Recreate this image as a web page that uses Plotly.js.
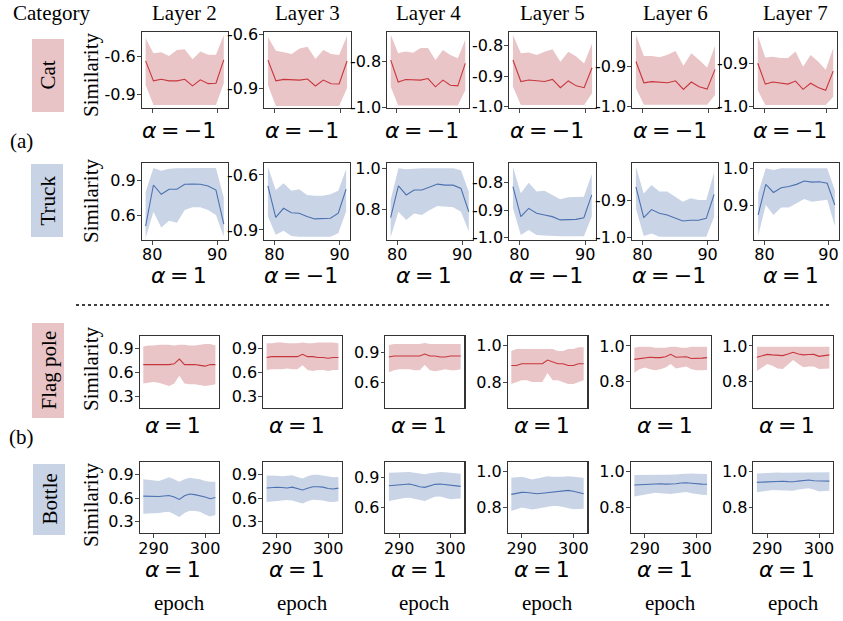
<!DOCTYPE html>
<html>
<head>
<meta charset="utf-8">
<script src="https://cdn.plot.ly/plotly-3.0.1.min.js"></script>
<style>html,body{margin:0;padding:0;background:#fff;}#chart{width:843px;height:621px;}</style>
</head>
<body>
<div id="chart"></div>
<script>
// ---------------- DATA ----------------
const layers = ["Layer 2", "Layer 3", "Layer 4", "Layer 5", "Layer 6", "Layer 7"];
const categories = ["Cat", "Truck", "Flag pole", "Bottle"];
const epochsA = [79, 80.2, 81.4, 82.6, 83.8, 85, 86.2, 87.4, 88.6, 89.8, 91];
const epochsB = [288, 289, 290, 291, 292, 293, 294, 295, 296, 297, 298, 299, 300, 301, 302];
const xTicksA = [80, 90];
const xTicksB = [290, 300];

const alphaCat    = ["−1", "−1", "−1", "−1", "−1", "−1"];
const alphaTruck  = ["1", "−1", "1", "−1", "−1", "1"];
const alphaFlag   = ["1", "1", "1", "1", "1", "1"];
const alphaBottle = ["1", "1", "1", "1", "1", "1"];

// Cat (row a1)
const catMean = [
  [-0.634,-0.793,-0.780,-0.793,-0.793,-0.780,-0.833,-0.785,-0.815,-0.812,-0.626],
  [-0.743,-0.858,-0.850,-0.854,-0.854,-0.848,-0.887,-0.854,-0.874,-0.876,-0.748],
  [-0.796,-0.891,-0.880,-0.883,-0.883,-0.876,-0.912,-0.883,-0.905,-0.908,-0.810],
  [-0.848,-0.918,-0.913,-0.915,-0.918,-0.911,-0.938,-0.916,-0.932,-0.938,-0.873],
  [-0.887,-0.941,-0.938,-0.939,-0.941,-0.936,-0.958,-0.939,-0.951,-0.957,-0.907],
  [-0.900,-0.948,-0.943,-0.945,-0.948,-0.941,-0.960,-0.946,-0.956,-0.962,-0.918]
];
const catUpper = [
  [-0.454,-0.573,-0.565,-0.595,-0.547,-0.541,-0.621,-0.560,-0.586,-0.586,-0.427],
  [-0.615,-0.691,-0.700,-0.709,-0.678,-0.669,-0.737,-0.687,-0.709,-0.715,-0.608],
  [-0.686,-0.766,-0.759,-0.764,-0.744,-0.744,-0.796,-0.752,-0.774,-0.788,-0.708],
  [-0.767,-0.826,-0.824,-0.832,-0.821,-0.813,-0.854,-0.821,-0.837,-0.859,-0.794],
  [-0.819,-0.873,-0.873,-0.876,-0.870,-0.860,-0.898,-0.866,-0.883,-0.902,-0.847],
  [-0.836,-0.887,-0.885,-0.888,-0.888,-0.873,-0.908,-0.881,-0.896,-0.915,-0.865]
];
const catLower = [
  [-0.825,-0.985,-0.985,-0.985,-0.985,-0.985,-0.985,-0.985,-0.985,-0.985,-0.812],
  [-0.882,-0.998,-0.998,-0.998,-0.998,-0.998,-0.998,-0.998,-0.998,-0.998,-0.898],
  [-0.912,-0.993,-0.993,-0.993,-0.993,-0.993,-0.993,-0.993,-0.993,-0.993,-0.927],
  [-0.935,-0.994,-0.994,-0.994,-0.994,-0.994,-0.994,-0.994,-0.994,-0.994,-0.956],
  [-0.955,-0.997,-0.997,-0.997,-0.997,-0.997,-0.997,-0.997,-0.997,-0.997,-0.972],
  [-0.962,-0.996,-0.996,-0.996,-0.996,-0.996,-0.996,-0.996,-0.996,-0.996,-0.977]
];

// Truck (row a2)
const truckMean = [
  [0.513,0.858,0.780,0.822,0.822,0.864,0.866,0.864,0.850,0.816,0.530],
  [-0.660,-0.831,-0.782,-0.806,-0.809,-0.827,-0.840,-0.836,-0.836,-0.809,-0.678],
  [0.759,0.914,0.870,0.894,0.894,0.910,0.923,0.918,0.918,0.902,0.788],
  [-0.815,-0.924,-0.894,-0.912,-0.918,-0.924,-0.936,-0.934,-0.934,-0.928,-0.845],
  [-0.862,-0.946,-0.924,-0.934,-0.939,-0.946,-0.955,-0.953,-0.953,-0.948,-0.883],
  [0.873,0.956,0.934,0.947,0.950,0.956,0.965,0.962,0.963,0.959,0.900]
];
const truckUpper = [
  [0.800,1.000,0.978,0.995,0.998,1.000,1.000,1.000,1.000,1.000,0.750],
  [-0.556,-0.682,-0.645,-0.686,-0.678,-0.709,-0.713,-0.713,-0.705,-0.686,-0.569],
  [0.845,1.000,0.995,0.998,1.000,1.000,1.000,1.000,1.000,0.990,0.886],
  [-0.743,-0.839,-0.801,-0.833,-0.830,-0.845,-0.861,-0.854,-0.854,-0.852,-0.769],
  [-0.807,-0.880,-0.857,-0.875,-0.875,-0.889,-0.903,-0.893,-0.898,-0.898,-0.823],
  [0.932,1.000,0.995,1.000,1.000,1.000,1.000,1.000,1.000,1.000,0.940]
];
const truckLower = [
  [0.410,0.634,0.502,0.558,0.541,0.648,0.671,0.671,0.648,0.606,0.424],
  [-0.827,-0.927,-0.905,-0.933,-0.937,-0.937,-0.937,-0.937,-0.937,-0.918,-0.800],
  [0.663,0.788,0.748,0.780,0.772,0.797,0.816,0.813,0.810,0.788,0.691],
  [-0.894,-0.991,-0.973,-0.991,-0.993,-0.995,-0.995,-0.995,-0.995,-0.995,-0.924],
  [-0.921,-0.996,-0.989,-0.998,-0.998,-0.998,-0.998,-0.998,-0.998,-0.998,-0.944],
  [0.816,0.900,0.873,0.893,0.893,0.905,0.916,0.909,0.912,0.914,0.843]
];

// Flag pole (row b1)
const flagMean = [
  [0.70,0.70,0.70,0.70,0.70,0.70,0.71,0.77,0.70,0.70,0.70,0.69,0.68,0.70,0.70],
  [0.79,0.80,0.80,0.80,0.80,0.80,0.80,0.83,0.80,0.80,0.79,0.79,0.78,0.79,0.79],
  [0.85,0.86,0.86,0.86,0.86,0.86,0.86,0.88,0.86,0.86,0.85,0.85,0.86,0.86,0.86],
  [0.89,0.89,0.90,0.90,0.90,0.90,0.90,0.92,0.91,0.90,0.90,0.89,0.89,0.90,0.90],
  [0.925,0.93,0.935,0.937,0.935,0.935,0.94,0.953,0.937,0.94,0.94,0.93,0.929,0.932,0.935],
  [0.937,0.945,0.953,0.95,0.947,0.946,0.955,0.965,0.955,0.95,0.952,0.953,0.942,0.945,0.95]
];
const flagUpper = [
  [0.93,0.94,0.94,0.95,0.95,0.95,0.94,0.95,0.95,0.94,0.94,0.95,0.96,0.96,0.94],
  [0.97,0.97,0.98,0.98,0.97,0.97,0.97,0.98,0.97,0.97,0.98,0.98,0.98,0.98,0.97],
  [0.97,0.98,0.98,0.98,0.98,0.98,0.98,0.99,0.98,0.98,0.98,0.98,0.98,0.98,0.98],
  [0.97,0.98,0.98,0.98,0.98,0.98,0.98,0.98,0.98,0.97,0.97,0.98,0.98,0.99,0.99],
  [0.99,0.995,0.995,0.995,0.99,0.99,0.99,0.995,0.995,0.99,0.99,0.995,0.995,0.995,0.995],
  [0.995,0.995,0.995,0.995,0.995,0.993,0.993,0.995,0.995,0.995,0.995,0.995,0.995,0.995,0.995]
];
const flagLower = [
  [0.46,0.47,0.48,0.47,0.45,0.43,0.46,0.56,0.46,0.45,0.45,0.44,0.43,0.44,0.45],
  [0.63,0.64,0.64,0.64,0.65,0.64,0.64,0.69,0.63,0.62,0.63,0.63,0.62,0.63,0.63],
  [0.70,0.72,0.73,0.73,0.73,0.72,0.72,0.77,0.72,0.71,0.72,0.73,0.72,0.72,0.73],
  [0.79,0.80,0.81,0.81,0.80,0.80,0.80,0.85,0.81,0.81,0.80,0.79,0.79,0.80,0.81],
  [0.85,0.87,0.88,0.87,0.865,0.87,0.88,0.90,0.875,0.88,0.885,0.87,0.865,0.865,0.866],
  [0.86,0.88,0.899,0.89,0.875,0.871,0.895,0.922,0.90,0.881,0.885,0.886,0.872,0.874,0.875]
];

// Bottle (row b2)
const bottleMean = [
  [0.625,0.622,0.62,0.62,0.628,0.633,0.615,0.584,0.63,0.652,0.645,0.633,0.615,0.593,0.609],
  [0.73,0.735,0.738,0.735,0.73,0.74,0.725,0.705,0.725,0.745,0.745,0.74,0.722,0.716,0.728],
  [0.821,0.825,0.828,0.832,0.838,0.825,0.81,0.805,0.82,0.835,0.838,0.832,0.828,0.818,0.815],
  [0.873,0.878,0.884,0.883,0.878,0.876,0.879,0.882,0.886,0.89,0.893,0.895,0.89,0.882,0.876],
  [0.926,0.928,0.93,0.932,0.935,0.933,0.931,0.93,0.933,0.937,0.939,0.936,0.932,0.931,0.93],
  [0.941,0.943,0.945,0.947,0.948,0.947,0.945,0.944,0.948,0.952,0.954,0.95,0.948,0.948,0.948]
];
const bottleUpper = [
  [0.84,0.835,0.825,0.818,0.84,0.865,0.84,0.81,0.84,0.86,0.85,0.84,0.82,0.81,0.81],
  [0.89,0.89,0.885,0.88,0.885,0.893,0.87,0.852,0.88,0.90,0.90,0.89,0.875,0.868,0.87],
  [0.95,0.952,0.955,0.957,0.958,0.95,0.94,0.935,0.945,0.955,0.958,0.955,0.95,0.945,0.941],
  [0.964,0.967,0.97,0.963,0.955,0.96,0.968,0.973,0.97,0.968,0.97,0.973,0.97,0.966,0.964],
  [0.982,0.983,0.984,0.985,0.985,0.984,0.983,0.982,0.985,0.988,0.99,0.99,0.989,0.988,0.988],
  [0.99,0.992,0.994,0.995,0.996,0.995,0.995,0.994,0.996,0.998,0.998,0.997,0.997,0.998,0.998]
];
const bottleLower = [
  [0.40,0.402,0.405,0.41,0.42,0.427,0.395,0.358,0.41,0.44,0.435,0.427,0.39,0.365,0.386],
  [0.55,0.56,0.565,0.57,0.575,0.57,0.55,0.531,0.56,0.58,0.575,0.57,0.555,0.551,0.56],
  [0.668,0.68,0.692,0.697,0.70,0.69,0.675,0.668,0.69,0.71,0.713,0.70,0.685,0.69,0.692],
  [0.781,0.79,0.80,0.795,0.79,0.793,0.80,0.804,0.809,0.809,0.803,0.796,0.791,0.792,0.794],
  [0.861,0.866,0.872,0.877,0.883,0.88,0.876,0.876,0.88,0.885,0.886,0.88,0.874,0.871,0.87],
  [0.885,0.89,0.896,0.898,0.897,0.895,0.894,0.894,0.90,0.906,0.908,0.90,0.889,0.892,0.894]
];

// y tick values per panel
const catYTicks   = [[-0.6,-0.9],[-0.6,-0.9],[-0.8,-1.0],[-0.8,-0.9,-1.0],[-0.9,-1.0],[-0.9,-1.0]];
const truckYTicks = [[0.9,0.6],[-0.6,-0.9],[1.0,0.8],[-0.8,-0.9,-1.0],[-0.9,-1.0],[1.0,0.9]];
const bYTicks     = [[0.9,0.6,0.3],[0.9,0.6,0.3],[0.9,0.6],[1.0,0.8],[1.0,0.8],[1.0,0.8]];

// ---------------- LAYOUT GEOMETRY ----------------
const W = 843, H = 621;
const px = v => v / W;
const py = v => 1 - v / H;
const rowsY = [[32,108],[163,240],[335.7,407.7],[461.7,533]];
const colsX = [
  [[141.7,227.7],[264,351],[387,469],[509,596],[632,719],[754,837]],
  [[141.7,227.7],[264,350],[386.7,472.7],[509,595.7],[632,718],[754.3,838.7]],
  [[139.7,219],[263,342],[385.3,464.3],[507.7,587.3],[630.7,710.7],[753.3,833]],
  [[139.7,219],[263,342],[385.3,464.3],[507.7,587.3],[630.7,710.7],[753.3,833]]
];
const yRanges = [
  [[-1.009,-0.404],[-1.009,-0.587],[-1.004,-0.674],[-1.004,-0.757],[-1.005,-0.812],[-1.003,-0.828]],
  [[0.396,1.043],[-0.955,-0.535],[0.650,1.026],[-1.009,-0.729],[-1.007,-0.797],[0.805,1.014]],
  [[0.155,1.065],[0.155,1.065],[0.347,1.062],[0.66,1.053],[0.656,1.057],[0.656,1.057]],
  [[0.155,1.065],[0.155,1.065],[0.347,1.062],[0.66,1.053],[0.656,1.057],[0.656,1.057]]
];

const RED_LINE = '#c8363d', RED_FILL = '#e9c5c7';
const BLUE_LINE = '#4c72b0', BLUE_FILL = '#cad4e7';
const SERIF = 'Liberation Serif';
const SANS = 'DejaVu Sans';

const rows = [
  {mean: catMean, up: catUpper, lo: catLower, x: epochsA, yt: catYTicks, red: true, alpha: alphaCat},
  {mean: truckMean, up: truckUpper, lo: truckLower, x: epochsA, yt: truckYTicks, red: false, alpha: alphaTruck},
  {mean: flagMean, up: flagUpper, lo: flagLower, x: epochsB, yt: bYTicks, red: true, alpha: alphaFlag},
  {mean: bottleMean, up: bottleUpper, lo: bottleLower, x: epochsB, yt: bYTicks, red: false, alpha: alphaBottle}
];

const fmt = v => (v < 0 ? '-' : '') + Math.abs(v).toFixed(1);

const traces = [];
const layout = {
  width: W, height: H,
  margin: {l:0, r:0, t:0, b:0},
  paper_bgcolor: '#fff', plot_bgcolor: '#fff',
  showlegend: false,
  font: {family: SANS, size: 16, color: '#000'},
  annotations: [], shapes: []
};

rows.forEach((row, r) => {
  for (let c = 0; c < 6; c++) {
    const k = r * 6 + c + 1;
    const xa = 'x' + (k > 1 ? k : ''), ya = 'y' + (k > 1 ? k : '');
    const lineC = row.red ? RED_LINE : BLUE_LINE;
    const fillC = row.red ? RED_FILL : BLUE_FILL;
    traces.push({x: row.x, y: row.lo[c], xaxis: xa, yaxis: ya, type: 'scatter', mode: 'lines',
      line: {width: 0, color: fillC}, hoverinfo: 'skip'});
    traces.push({x: row.x, y: row.up[c], xaxis: xa, yaxis: ya, type: 'scatter', mode: 'lines',
      line: {width: 0, color: fillC}, fill: 'tonexty', fillcolor: fillC, hoverinfo: 'skip'});
    traces.push({x: row.x, y: row.mean[c], xaxis: xa, yaxis: ya, type: 'scatter', mode: 'lines',
      line: {width: 1.1, color: lineC}});

    const xr = row.x === epochsA ? [78.4, 91.6] : [287.3, 302.7];
    const xt = row.x === epochsA ? xTicksA : xTicksB;
    const [x0, x1] = colsX[r][c];
    const [y0, y1] = rowsY[r];
    const showXLab = (r === 1 || r === 3);
    const showXTicks = (r !== 2);
    layout['xaxis' + (k > 1 ? k : '')] = {
      domain: [px(x0), px(x1)], anchor: ya, range: xr,
      showline: true, mirror: true, linecolor: '#333', linewidth: 1.2,
      showgrid: false, zeroline: false,
      ticks: showXTicks ? 'outside' : '', ticklen: 3.5, tickwidth: 0.9, tickcolor: '#333',
      tickvals: xt, ticktext: xt.map(String), showticklabels: showXLab,
      ticklabelstandoff: r === 1 ? -4 : -3,
      tickfont: {family: SANS, size: 16, color: '#000'}, fixedrange: true
    };
    layout['yaxis' + (k > 1 ? k : '')] = {
      domain: [py(y1), py(y0)], anchor: xa, range: yRanges[r][c],
      showline: true, mirror: true, linecolor: '#333', linewidth: 1.2,
      showgrid: false, zeroline: false,
      ticks: 'outside', ticklen: 3.5, tickwidth: 0.9, tickcolor: '#333',
      tickvals: row.yt[c], ticktext: row.yt[c].map(fmt), ticklabelstandoff: -2,
      tickfont: {family: SANS, size: 16, color: '#000'}, fixedrange: true
    };

    // alpha label (thin spaces, like math text)
    const alphaY = [130, 275, 425, 569.5][r];
    layout.annotations.push({
      xref: 'paper', yref: 'paper', x: px((x0 + x1) / 2 - 6), y: py(alphaY),
      xanchor: 'center', yanchor: 'middle', showarrow: false, borderpad: 0,
      text: '<i>α</i>\u2009=\u2009' + row.alpha[c], font: {family: SANS, size: 22, color: '#000'}
    });
    if (r === 0) {
      layout.annotations.push({
        xref: 'paper', yref: 'paper', x: px((x0 + x1) / 2), y: 1,
        xanchor: 'center', yanchor: 'top', showarrow: false, borderpad: 0,
        text: layers[c], font: {family: SERIF, size: 21, color: '#000'}
      });
    }
    if (r === 3) {
      layout.annotations.push({
        xref: 'paper', yref: 'paper', x: px((x0 + x1) / 2), y: py(603),
        xanchor: 'center', yanchor: 'middle', showarrow: false, borderpad: 0,
        text: 'epoch', font: {family: SERIF, size: 21, color: '#000'}
      });
    }
  }
});

// Similarity labels
[75, 201, 369, 505].forEach(yc => {
  layout.annotations.push({xref: 'paper', yref: 'paper', x: px(91), y: py(yc),
    xanchor: 'center', yanchor: 'middle', showarrow: false, textangle: -90, borderpad: 0,
    text: 'Similarity', font: {family: SERIF, size: 21, color: '#000'}});
});

// Category boxes
const catBoxes = [[32,64,39,112],[31,63,164,237],[32,64,323,418],[33,65,464,535]];
const catBoxColors = ['#e8c4c6', '#c9d3e6', '#e8c4c6', '#c9d3e6'];
catBoxes.forEach((b, i) => {
  layout.shapes.push({type: 'rect', xref: 'paper', yref: 'paper',
    x0: px(b[0]), x1: px(b[1]), y0: py(b[3]), y1: py(b[2]),
    fillcolor: catBoxColors[i], line: {width: 0}, layer: 'below'});
  layout.annotations.push({xref: 'paper', yref: 'paper', x: px((b[0] + b[1]) / 2), y: py((b[2] + b[3]) / 2),
    xanchor: 'center', yanchor: 'middle', showarrow: false, textangle: -90, borderpad: 0,
    text: categories[i], font: {family: SERIF, size: 21, color: '#000'}});
});

layout.annotations.push({xref: 'paper', yref: 'paper', x: px(51.7), y: 1, xanchor: 'center', yanchor: 'top',
  showarrow: false, borderpad: 0, text: 'Category', font: {family: SERIF, size: 21, color: '#000'}});
layout.annotations.push({xref: 'paper', yref: 'paper', x: px(21), y: py(141), xanchor: 'center', yanchor: 'middle',
  showarrow: false, borderpad: 0, text: '(a)', font: {family: SERIF, size: 21, color: '#000'}});
layout.annotations.push({xref: 'paper', yref: 'paper', x: px(21), y: py(437), xanchor: 'center', yanchor: 'middle',
  showarrow: false, borderpad: 0, text: '(b)', font: {family: SERIF, size: 21, color: '#000'}});

// dotted separator
layout.shapes.push({type: 'line', xref: 'paper', yref: 'paper', x0: px(76), x1: px(832), y0: py(305), y1: py(305),
  line: {color: '#000', width: 1.5, dash: 'dot'}});

Plotly.newPlot('chart', traces, layout, {staticPlot: true, displayModeBar: false});
</script>
</body>
</html>
